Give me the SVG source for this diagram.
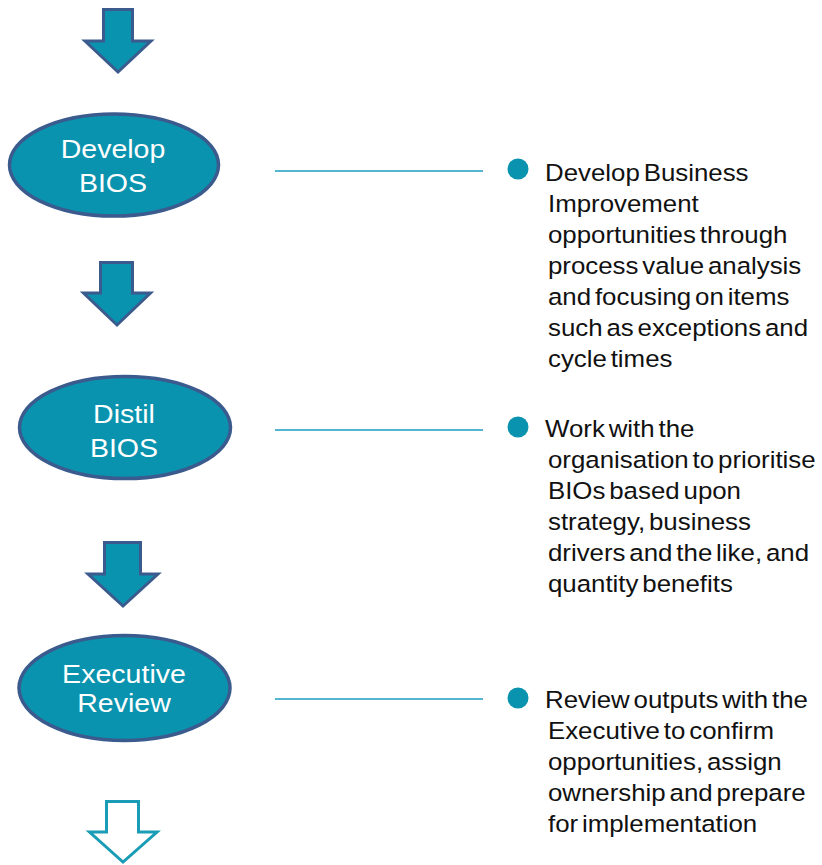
<svg xmlns="http://www.w3.org/2000/svg" width="822" height="865" viewBox="0 0 822 865">
<style>
.arrow{fill:#0a93ae;stroke:#3b5b8e;stroke-width:3;stroke-linejoin:miter}
.arrow-open{fill:#ffffff;stroke:#1a9cb6;stroke-width:3;stroke-linejoin:miter}
.node{fill:#0a93ae;stroke:#3b5b8e;stroke-width:3.5}
.ntext{font-family:"Liberation Sans",Arial,sans-serif;font-size:25.5px;fill:#ffffff;text-anchor:middle}
.btext{font-family:"Liberation Sans",Arial,sans-serif;font-size:23.5px;fill:#111111;word-spacing:-3px}
.bullet{fill:#0a93ae}
.conn{stroke:#1a9cc0;stroke-width:1.6;fill:none}
</style>
<g id="arrows">
<path class="arrow" d="M103.5,9.5 H132.5 V41 H151 L118,72 L85,41 H103.5 Z"/>
<path class="arrow" d="M100.5,262.5 H132.5 V293 H150.5 L117,325 L83.5,293 H100.5 Z"/>
<path class="arrow" d="M104.5,542.5 H140.5 V574 H158 L123,606 L88,574 H104.5 Z"/>
<path class="arrow-open" d="M106.5,801.5 H138.5 V832 H157 L123,862 L89.5,832 H106.5 Z"/>
</g>
<g id="connectors">
<line class="conn" x1="275" y1="171" x2="483" y2="171"/>
<line class="conn" x1="275" y1="430" x2="483" y2="430"/>
<line class="conn" x1="275" y1="699" x2="483" y2="699"/>
</g>
<g id="node-develop">
<ellipse class="node" cx="114" cy="165" rx="104.5" ry="51"/>
<g transform="translate(113,0) scale(1.12,1)">
<text class="ntext" x="0" y="158">Develop</text>
<text class="ntext" x="0" y="192">BIOS</text>
</g>
</g>
<g id="node-distil">
<ellipse class="node" cx="125" cy="427.5" rx="105.5" ry="51"/>
<g transform="translate(124,0) scale(1.12,1)">
<text class="ntext" x="0" y="423">Distil</text>
<text class="ntext" x="0" y="457">BIOS</text>
</g>
</g>
<g id="node-executive">
<ellipse class="node" cx="124.5" cy="688" rx="105.5" ry="52.5"/>
<g transform="translate(124,0) scale(1.12,1)">
<text class="ntext" x="0" y="683">Executive</text>
<text class="ntext" x="0" y="712">Review</text>
</g>
</g>
<g id="desc-develop">
<circle class="bullet" cx="518" cy="169" r="10.5"/>
<g transform="translate(545,0) scale(1.1,1)">
<text class="btext" x="0" y="181">Develop Business</text>
<text class="btext" x="2.7" y="212">Improvement</text>
<text class="btext" x="2.7" y="243">opportunities through</text>
<text class="btext" x="2.7" y="274">process value analysis</text>
<text class="btext" x="2.7" y="305">and focusing on items</text>
<text class="btext" x="2.7" y="336">such as exceptions and</text>
<text class="btext" x="2.7" y="367">cycle times</text>
</g>
</g>
<g id="desc-distil">
<circle class="bullet" cx="518" cy="427" r="10.5"/>
<g transform="translate(545,0) scale(1.1,1)">
<text class="btext" x="0" y="437">Work with the</text>
<text class="btext" x="2.7" y="468">organisation to prioritise</text>
<text class="btext" x="2.7" y="499">BIOs based upon</text>
<text class="btext" x="2.7" y="530">strategy, business</text>
<text class="btext" x="2.7" y="561">drivers and the like, and</text>
<text class="btext" x="2.7" y="592">quantity benefits</text>
</g>
</g>
<g id="desc-executive">
<circle class="bullet" cx="518" cy="698" r="10.5"/>
<g transform="translate(545,0) scale(1.1,1)">
<text class="btext" x="0" y="708">Review outputs with the</text>
<text class="btext" x="2.7" y="739">Executive to confirm</text>
<text class="btext" x="2.7" y="770">opportunities, assign</text>
<text class="btext" x="2.7" y="801">ownership and prepare</text>
<text class="btext" x="2.7" y="832">for implementation</text>
</g>
</g>
</svg>
